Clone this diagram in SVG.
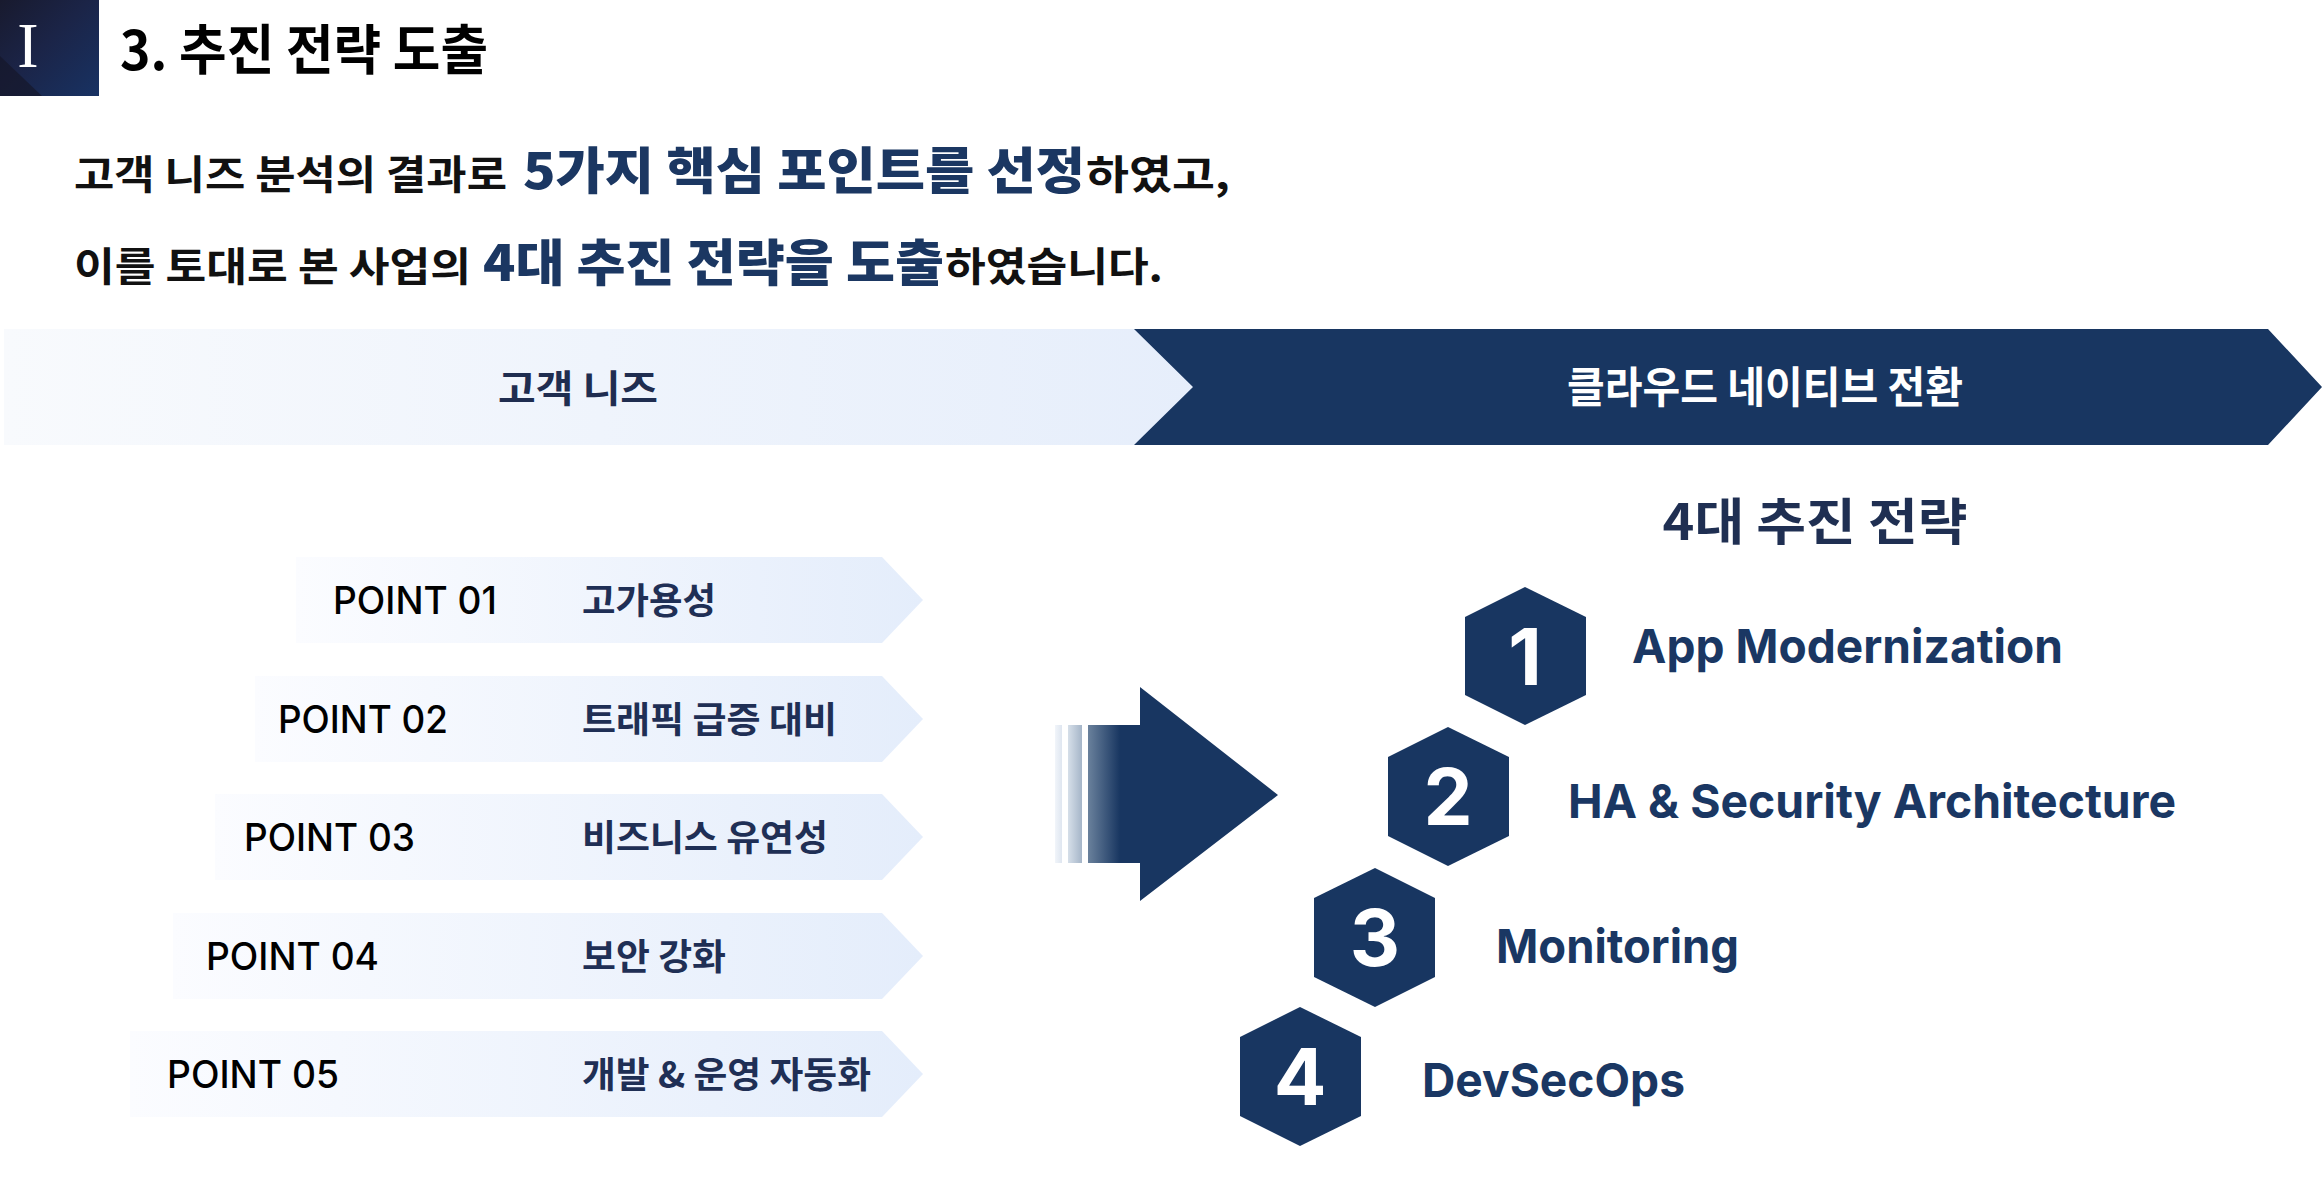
<svg xmlns="http://www.w3.org/2000/svg" width="2324" height="1192" viewBox="0 0 2324 1192">
<defs>
<style>
.kr{font-family:"Noto Sans CJK KR","Noto Sans",sans-serif;}
.en{font-family:Inter,"Noto Sans CJK KR",sans-serif;}
.navy{fill:#183661;}
.ptk{font-size:36px;font-weight:700;fill:#1f2f55;}
.pte{font-size:38px;font-weight:500;fill:#000;}
.num{font-family:Inter,sans-serif;font-size:78px;font-weight:700;fill:#fff;text-anchor:middle;}
.lbl{font-family:Inter,sans-serif;font-size:47px;font-weight:700;fill:#1a3763;}
.s1{font-size:40px;font-weight:700;fill:#111;}
.s2{font-size:50px;font-weight:900;fill:#1b3762;}
</style>
<linearGradient id="ptg" x1="0" y1="0" x2="1" y2="0">
<stop offset="0" stop-color="#fbfcff"/>
<stop offset="1" stop-color="#e4edfb"/>
</linearGradient>
<linearGradient id="bang" x1="0" y1="0" x2="1" y2="0">
<stop offset="0" stop-color="#f8fafd"/>
<stop offset="1" stop-color="#e6eefb"/>
</linearGradient>
<linearGradient id="hdr" x1="0" y1="0" x2="1" y2="1">
<stop offset="0" stop-color="#181a2e"/>
<stop offset="0.45" stop-color="#1b2447"/>
<stop offset="1" stop-color="#183263"/>
</linearGradient>
<linearGradient id="shaft" gradientUnits="userSpaceOnUse" x1="1088" y1="0" x2="1120" y2="0">
<stop offset="0" stop-color="#6a819c"/>
<stop offset="1" stop-color="#183661"/>
</linearGradient>
<linearGradient id="st2" gradientUnits="userSpaceOnUse" x1="1068" y1="0" x2="1082" y2="0">
<stop offset="0" stop-color="#d6dfe9"/>
<stop offset="1" stop-color="#a5b5c8"/>
</linearGradient>
<linearGradient id="st1" gradientUnits="userSpaceOnUse" x1="1055" y1="0" x2="1062" y2="0">
<stop offset="0" stop-color="#f1f5fa"/>
<stop offset="1" stop-color="#dfe6f0"/>
</linearGradient>
</defs>

<rect width="2324" height="1192" fill="#fff"/>

<g id="header">
<rect x="0" y="0" width="99" height="96" fill="url(#hdr)"/>
<polygon points="0,56 0,96 42,96" fill="#15172a" opacity="0.7"/>
<text x="28" y="67" font-family="'Liberation Serif',serif" font-size="64" fill="#fff" text-anchor="middle">I</text>
</g>

<g id="title">
<text class="kr" x="120" y="70" font-size="54" font-weight="700" fill="#000" textLength="368" lengthAdjust="spacingAndGlyphs">3. 추진 전략 도출</text>
</g>

<g id="subtitle" class="kr">
<text class="s1" x="74" y="189" textLength="433" lengthAdjust="spacingAndGlyphs">고객 니즈 분석의 결과로</text>
<text class="s2" x="523" y="189" textLength="562" lengthAdjust="spacingAndGlyphs">5가지 핵심 포인트를 선정</text>
<text class="s1" x="1086" y="189" textLength="144" lengthAdjust="spacingAndGlyphs">하였고,</text>
<text class="s1" x="74" y="281" textLength="397" lengthAdjust="spacingAndGlyphs">이를 토대로 본 사업의</text>
<text class="s2" x="483" y="281" textLength="461" lengthAdjust="spacingAndGlyphs">4대 추진 전략을 도출</text>
<text class="s1" x="945" y="281" textLength="218" lengthAdjust="spacingAndGlyphs">하였습니다.</text>
</g>

<g id="banner-needs">
<rect x="4" y="329" width="1192" height="116" fill="url(#bang)"/>
<text class="kr" x="578" y="402" font-size="38" font-weight="700" fill="#1f2d50" text-anchor="middle" textLength="160" lengthAdjust="spacingAndGlyphs">고객 니즈</text>
</g>

<g id="banner-cloud">
<polygon class="navy" points="1134,329 2268,329 2322,387 2268,445 1134,445 1193,387"/>
<text class="kr" x="1765" y="403" font-size="43" font-weight="700" fill="#fff" text-anchor="middle" textLength="396" lengthAdjust="spacingAndGlyphs">클라우드 네이티브 전환</text>
</g>

<g id="point-1">
<polygon points="296,557 882,557 923,600 882,643 296,643" fill="url(#ptg)"/>
<text class="en pte" x="333" y="614" textLength="164" lengthAdjust="spacingAndGlyphs">POINT 01</text>
<text class="kr ptk" x="582" y="614" textLength="134" lengthAdjust="spacingAndGlyphs">고가용성</text>
</g>
<g id="point-2">
<polygon points="255,676 882,676 923,719 882,762 255,762" fill="url(#ptg)"/>
<text class="en pte" x="278" y="733" textLength="170" lengthAdjust="spacingAndGlyphs">POINT 02</text>
<text class="kr ptk" x="582" y="733" textLength="255" lengthAdjust="spacingAndGlyphs">트래픽 급증 대비</text>
</g>
<g id="point-3">
<polygon points="215,794 882,794 923,837 882,880 215,880" fill="url(#ptg)"/>
<text class="en pte" x="244" y="851" textLength="171" lengthAdjust="spacingAndGlyphs">POINT 03</text>
<text class="kr ptk" x="582" y="851" textLength="246" lengthAdjust="spacingAndGlyphs">비즈니스 유연성</text>
</g>
<g id="point-4">
<polygon points="173,913 882,913 923,956 882,999 173,999" fill="url(#ptg)"/>
<text class="en pte" x="206" y="970" textLength="173" lengthAdjust="spacingAndGlyphs">POINT 04</text>
<text class="kr ptk" x="582" y="970" textLength="144" lengthAdjust="spacingAndGlyphs">보안 강화</text>
</g>
<g id="point-5">
<polygon points="130,1031 882,1031 923,1074 882,1117 130,1117" fill="url(#ptg)"/>
<text class="en pte" x="167" y="1088" textLength="172" lengthAdjust="spacingAndGlyphs">POINT 05</text>
<text class="kr ptk" x="582" y="1088" textLength="289" lengthAdjust="spacingAndGlyphs">개발 &amp; 운영 자동화</text>
</g>

<g id="connectors">
<rect x="1055" y="725" width="7" height="138" fill="url(#st1)"/>
<rect x="1068" y="725" width="14" height="138" fill="url(#st2)"/>
<polygon points="1088,725 1140,725 1140,687 1278,795 1140,901 1140,863 1088,863" fill="url(#shaft)"/>
</g>

<g id="strategy-title">
<text class="kr" x="1815" y="540" font-size="50" font-weight="700" fill="#1f2f52" text-anchor="middle" textLength="305" lengthAdjust="spacingAndGlyphs">4대 추진 전략</text>
</g>

<g id="strategy-1">
<polygon class="navy" points="1525,587 1586,617 1586,695 1525,725 1465,695 1465,617"/>
<text class="num" x="1525" y="685">1</text>
<text class="lbl" x="1632" y="663" textLength="431" lengthAdjust="spacingAndGlyphs">App Modernization</text>
</g>
<g id="strategy-2">
<polygon class="navy" points="1448,727 1509,757 1509,836 1448,866 1388,836 1388,757"/>
<text class="num" x="1448" y="825">2</text>
<text class="lbl" x="1568" y="818" textLength="608" lengthAdjust="spacingAndGlyphs">HA &amp; Security Architecture</text>
</g>
<g id="strategy-3">
<polygon class="navy" points="1375,868 1435,898 1435,977 1375,1007 1314,977 1314,898"/>
<text class="num" x="1375" y="966">3</text>
<text class="lbl" x="1496" y="963" textLength="243" lengthAdjust="spacingAndGlyphs">Monitoring</text>
</g>
<g id="strategy-4">
<polygon class="navy" points="1300,1007 1361,1037 1361,1116 1300,1146 1240,1116 1240,1037"/>
<text class="num" x="1300" y="1105">4</text>
<text class="lbl" x="1422" y="1097" textLength="263" lengthAdjust="spacingAndGlyphs">DevSecOps</text>
</g>
</svg>
